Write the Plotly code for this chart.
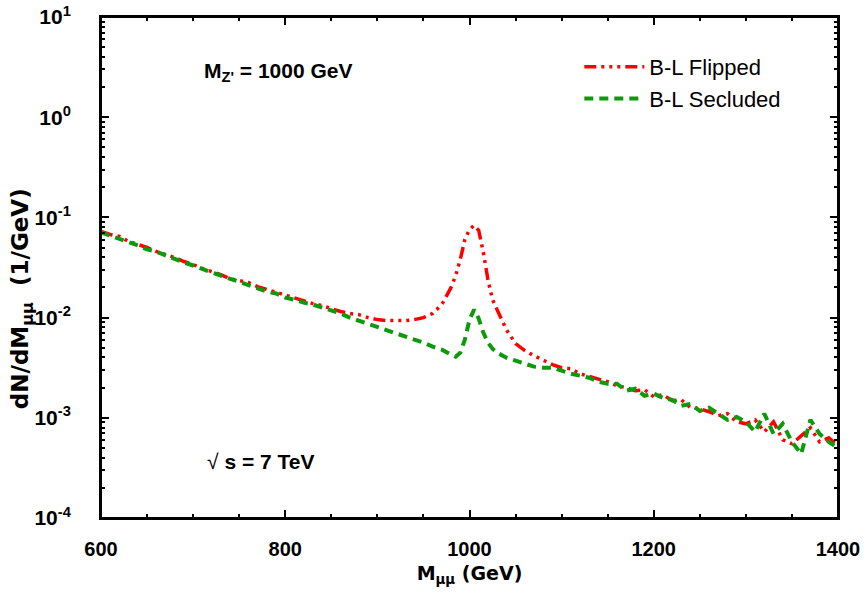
import plotly.graph_objects as go

mass = [600, 610, 620, 630, 640, 650, 660, 670, 680, 690, 700, 710, 720, 730, 740, 750,
        760, 770, 780, 790, 800, 810, 820, 830, 840, 850, 860, 870, 880, 890, 900, 910,
        920, 930, 940, 950, 960, 970, 980, 985, 990, 995, 1000, 1005, 1010, 1015, 1020,
        1025, 1030, 1040, 1050, 1060, 1070, 1080, 1090, 1100, 1110, 1120, 1130, 1140,
        1150, 1160, 1170, 1180, 1190, 1200, 1210, 1220, 1230, 1240, 1250, 1260, 1270,
        1280, 1290, 1300, 1310, 1320, 1330, 1340, 1350, 1360, 1370, 1380, 1390, 1400]

flipped = [0.0724, 0.0676, 0.0646, 0.0575, 0.0537, 0.0501, 0.0457, 0.0427, 0.0398, 0.0363,
           0.0339, 0.0309, 0.0288, 0.0269, 0.0245, 0.0234, 0.0224, 0.0204, 0.0191, 0.0178,
           0.0166, 0.0155, 0.0148, 0.0138, 0.0132, 0.0123, 0.0115, 0.0110, 0.0107, 0.0100,
           0.00955, 0.00933, 0.00933, 0.00933, 0.00955, 0.0100, 0.0110, 0.0135, 0.0200,
           0.0263, 0.0380, 0.0603, 0.0759, 0.0832, 0.0741, 0.0447, 0.0240, 0.0151, 0.0120,
           0.00759, 0.00550, 0.00468, 0.00417, 0.00372, 0.00339, 0.00316, 0.00309, 0.00275,
           0.00257, 0.00240, 0.00229, 0.00209, 0.00200, 0.00186, 0.00191, 0.00162, 0.00170,
           0.00148, 0.00151, 0.00126, 0.00123, 0.00115, 0.00105, 0.00110, 0.000912,
           0.000871, 0.000955, 0.000724, 0.000912, 0.000603, 0.000550, 0.000661, 0.000794,
           0.000575, 0.000631, 0.000525]

secluded = [0.0708, 0.0661, 0.0617, 0.0575, 0.0525, 0.0479, 0.0457, 0.0417, 0.0380, 0.0355,
            0.0331, 0.0302, 0.0282, 0.0263, 0.0245, 0.0229, 0.0214, 0.0200, 0.0182, 0.0174,
            0.0158, 0.0151, 0.0141, 0.0135, 0.0126, 0.0117, 0.0110, 0.0100, 0.00933, 0.00871,
            0.00813, 0.00759, 0.00692, 0.00646, 0.00603, 0.00562, 0.00513, 0.00479, 0.00427,
            0.00407, 0.00447, 0.00603, 0.00955, 0.0120, 0.00977, 0.00708, 0.00562, 0.00490,
            0.00447, 0.00398, 0.00372, 0.00347, 0.00324, 0.00316, 0.00316, 0.00295, 0.00275,
            0.00263, 0.00251, 0.00229, 0.00219, 0.00219, 0.00186, 0.00195, 0.00166, 0.00174,
            0.00158, 0.00151, 0.00132, 0.00138, 0.00117, 0.00126, 0.00110, 0.000955, 0.00102,
            0.000912, 0.000724, 0.00110, 0.000692, 0.000871, 0.000575, 0.000437, 0.000955,
            0.000692, 0.000575, 0.000501]

x_ticks = [600, 800, 1000, 1200, 1400]
y_exponents = [-4, -3, -2, -1, 0, 1]
y_tick_labels = ["<b>10<sup>%d</sup></b>" % e for e in y_exponents]
y_tick_vals = [10.0 ** e for e in y_exponents]
y_minor_vals = [m * 10.0 ** e for e in y_exponents[:-1] for m in range(2, 10)]

FONT = "Liberation Sans, Arial, Helvetica, sans-serif"
WIDE = "DejaVu Sans, Verdana, sans-serif"

fig = go.Figure()
fig.add_trace(go.Scatter(
    x=mass, y=flipped, mode="lines", name="B-L Flipped",
    line=dict(color="#ff0000", width=3.5,
              dash="12px,5px,3px,5px,3px,5px,3px,5px")))
fig.add_trace(go.Scatter(
    x=mass, y=secluded, mode="lines", name="B-L Secluded",
    line=dict(color="#0a9a0a", width=4, dash="9px,6px")))

axis_common = dict(showline=True, linecolor="black", linewidth=2, mirror="allticks",
                   ticks="inside", tickcolor="black", tickwidth=1.5, ticklen=8,
                   showgrid=False, zeroline=False, automargin=False,
                   ticklabeloverflow="allow")

fig.update_xaxes(range=[600, 1400], tickvals=x_ticks,
                 ticktext=["<b>%d</b>" % v for v in x_ticks],
                 tickfont=dict(family=FONT, size=20, color="black"),
                 minor=dict(ticks="inside", ticklen=4, tickcolor="black",
                            tickvals=list(range(650, 1400, 50)), showgrid=False),
                 title=dict(text="<b>M<sub>μμ</sub> (GeV)</b>",
                            font=dict(family=WIDE, size=19, color="black"), standoff=8),
                 ticklabelstandoff=12,
                 **axis_common)
fig.update_yaxes(type="log", range=[-4, 1], tickvals=y_tick_vals, ticktext=y_tick_labels,
                 tickfont=dict(family=FONT, size=21, color="black"),
                 minor=dict(ticks="inside", ticklen=4, tickcolor="black",
                            tickvals=y_minor_vals, showgrid=False),
                 ticklabelstandoff=24,
                 **axis_common)

# plot frame
fig.add_shape(type="rect", xref="paper", yref="paper", x0=0, y0=0, x1=1, y1=1,
              line=dict(color="black", width=2), fillcolor="rgba(0,0,0,0)", layer="above")

fig.add_annotation(x=-0.107, y=0.437, xref="paper", yref="paper", xanchor="center",
                   yanchor="middle", showarrow=False, textangle=-90,
                   text="<b>dN/dM<sub>μμ</sub>&nbsp;&nbsp;(1/GeV)</b>",
                   font=dict(family=WIDE, size=23, color="black"))
fig.add_annotation(x=0.137, y=0.89, xref="paper", yref="paper", xanchor="left",
                   yanchor="middle", showarrow=False,
                   text="<b>M<sub>Z'</sub> = 1000 GeV</b>",
                   font=dict(family=FONT, size=21, color="black"))
fig.add_annotation(x=0.141, y=0.112, xref="paper", yref="paper", xanchor="left",
                   yanchor="middle", showarrow=False,
                   text="√ <b>s = 7 TeV</b>",
                   font=dict(family=FONT, size=21, color="black"))

fig.update_layout(
    width=866, height=597,
    margin=dict(l=101, r=28, t=17, b=79),
    paper_bgcolor="white", plot_bgcolor="white",
    legend=dict(x=0.649, y=0.942, xanchor="left", yanchor="top",
                bgcolor="rgba(0,0,0,0)", itemwidth=60,
                font=dict(family=FONT, size=22, color="black"),
                tracegroupgap=0),
    showlegend=True,
)

fig.write_html("out.html", config={"displayModeBar": False},
               post_script="document.body.style.margin='0';document.body.style.overflow='hidden';")
